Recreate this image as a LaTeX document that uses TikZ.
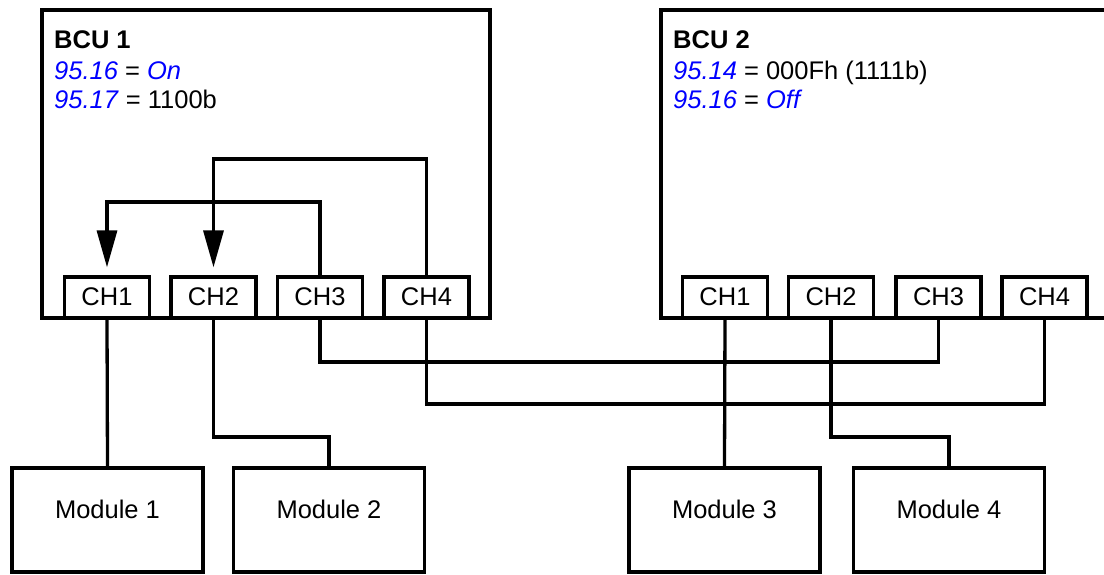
\documentclass[tikz,border=0pt]{standalone}
\usepackage{fontspec}
\setmainfont{Liberation Sans}
\usetikzlibrary{arrows.meta}
\definecolor{parblue}{RGB}{0,0,255}
\newcommand{\prm}[1]{\textcolor{parblue}{\textit{#1}}}
\begin{document}
\begin{tikzpicture}[x=1pt,y=-1pt,
  every node/.style={font=\fontsize{25.5}{30}\selectfont},
  wire/.style={line width=3.3pt},
  unitbox/.style={draw, line width=3.3pt, inner sep=0pt, minimum width=#1, minimum height=308pt},
  chbox/.style={draw, line width=3.3pt, inner sep=0pt, minimum width=85pt, minimum height=41pt, text height=18pt, text depth=3pt},
  modbox/.style={draw, line width=3.3pt, inner sep=0pt, minimum width=191pt, minimum height=104pt, text height=18pt, text depth=22pt},
  txt/.style={anchor=base west, inner sep=0pt},
  arr/.style={wire, -{Triangle[length=37pt,width=20pt]}}]
\clip (0,0) rectangle (1104,574);
\fill[white] (0,0) rectangle (1104,574);

% BCU units
\node[unitbox=448pt] (bcu1) at (266,164) {};
\node[unitbox=470pt] (bcu2) at (896,164) {};

\node[txt] (t11) at (54,48) {\textbf{BCU 1}};
\node[txt] (t12) at (54,79) {\prm{95.16} = \prm{On}};
\node[txt] (t13) at (54,108) {\prm{95.17} = 1100b};

\node[txt] (t21) at (673,48) {\textbf{BCU 2}};
\node[txt] (t22) at (673,79) {\prm{95.14} = 000Fh (1111b)};
\node[txt] (t23) at (673,108) {\prm{95.16} = \prm{Off}};

% channels
\node[chbox] (a1) at (107,297.5) {CH1};
\node[chbox] (a2) at (213.5,297.5) {CH2};
\node[chbox] (a3) at (320,297.5) {CH3};
\node[chbox] (a4) at (426.5,297.5) {CH4};
\node[chbox] (b1) at (725,297.5) {CH1};
\node[chbox] (b2) at (831,297.5) {CH2};
\node[chbox] (b3) at (938.5,297.5) {CH3};
\node[chbox] (b4) at (1044.5,297.5) {CH4};

% modules
\node[modbox] (m1) at (107.5,520) {Module 1};
\node[modbox] (m2) at (329,520) {Module 2};
\node[modbox] (m3) at (724.5,520) {Module 3};
\node[modbox] (m4) at (949,520) {Module 4};

% internal redirections
\draw[arr] (a3.north) -- (a3.north |- 0,202) -- (a1.north |- 0,202) -- ([yshift=8pt]a1.north);
\draw[arr] (a4.north) -- (a4.north |- 0,159) -- (a2.north |- 0,159) -- ([yshift=8pt]a2.north);

% external wiring
\draw[wire] (a1.south) -- (m1.north);
\draw[wire] (a2.south) -- (a2.south |- 0,437) -- (m2.north |- 0,437) -- (m2.north);
\draw[wire] (a3.south) -- (a3.south |- 0,362) -- (b3.south |- 0,362) -- (b3.south);
\draw[wire] (a4.south) -- (a4.south |- 0,404) -- (b4.south |- 0,404) -- (b4.south);
\draw[wire] (b1.south) -- (m3.north);
\draw[wire] (b2.south) -- (b2.south |- 0,437) -- (m4.north |- 0,437) -- (m4.north);
\end{tikzpicture}
\end{document}
